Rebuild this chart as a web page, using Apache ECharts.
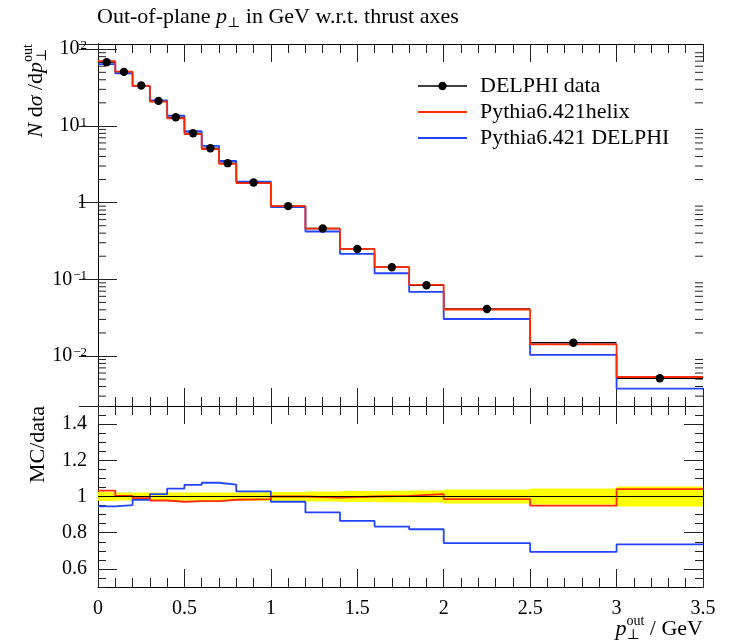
<!DOCTYPE html>
<html><head><meta charset="utf-8">
<script src="https://cdn.jsdelivr.net/npm/echarts@6/dist/echarts.min.js"></script>
<style>html,body{margin:0;padding:0;background:#fff}#c{width:729px;height:644px}</style>
</head><body><div id="c"></div>
<script>
// ---------- data ----------
const binEdges = [0, 0.1, 0.2, 0.3, 0.4, 0.5, 0.6, 0.7, 0.8, 1.0, 1.2, 1.4, 1.6, 1.8, 2.0, 2.5, 3.0, 3.5];
const delphiData = [67.8, 50.7, 33.6, 21.2, 13.0, 8.04, 5.12, 3.27, 1.83, 0.90, 0.46, 0.249, 0.1436, 0.0836, 0.0410, 0.0149, 0.00512];
const pythiaHelix = [70.0, 50.9, 33.3, 20.7, 12.6, 7.83, 4.99, 3.21, 1.80, 0.90, 0.457, 0.249, 0.1442, 0.0847, 0.0404, 0.01416, 0.00533];
const pythiaDelphi = [64.1, 48.3, 33.0, 21.5, 13.6, 8.55, 5.51, 3.49, 1.88, 0.874, 0.420, 0.215, 0.120, 0.0685, 0.0304, 0.01034, 0.00376];
const helixRatio = [1.033, 1.004, 0.991, 0.978, 0.971, 0.974, 0.974, 0.982, 0.985, 1.0, 0.994, 1.0, 1.004, 1.013, 0.985, 0.950, 1.041];
const delphiRatio = [0.945, 0.952, 0.982, 1.013, 1.044, 1.064, 1.076, 1.066, 1.028, 0.971, 0.912, 0.865, 0.834, 0.819, 0.742, 0.694, 0.735];
const dataRelErr = [0.025, 0.022, 0.022, 0.022, 0.022, 0.022, 0.022, 0.022, 0.023, 0.025, 0.028, 0.030, 0.032, 0.033, 0.038, 0.044, 0.055];
const ratioTickLabels = [0.6, 0.8, 1, 1.2, 1.4];
const legendNames = ['DELPHI data', 'Pythia6.421helix', 'Pythia6.421 DELPHI'];

// ---------- styling ----------
const FONT = '"Liberation Serif", "DejaVu Serif", serif';
const RED = '#ff2a00', BLUE = '#2244ff', YELLOW = '#ffff00', INK = '#000', TICK = '#222';
const L = 98, W = 605, T1 = 44, H1 = 362, H2 = 181;
const T2 = T1 + H1;
const yMin = 0.00223, yMax = 117;
const FS = 22, FSS = 14;

function steps(vals) {
  const pts = [];
  for (let i = 0; i < vals.length; i++) {
    pts.push([binEdges[i], vals[i]], [binEdges[i + 1], vals[i]]);
  }
  return pts;
}
const dataBins = delphiData.map((v, i) => [binEdges[i], binEdges[i + 1], v]);
const bandBins = dataRelErr.map((e, i) => [binEdges[i], binEdges[i + 1], e]);

const minorLog = [];
for (let k = -3; k <= 2; k++) {
  for (let m = 2; m <= 9; m++) {
    const v = m * Math.pow(10, k);
    if (v > yMin && v < yMax) minorLog.push([0, v]);
  }
}

// ---------- text helpers ----------
const mctx = document.createElement('canvas').getContext('2d');
function fontStr(size, italic) { return (italic ? 'italic ' : '') + size + 'px ' + FONT; }
function tw(t, s, i) { mctx.font = fontStr(s, i); return mctx.measureText(t).width; }
function textRun(pieces) {
  let x = 0, prevStart = 0;
  const els = [];
  pieces.forEach(p => {
    const w = tw(p.t, p.s, p.i);
    const start = p.stack ? prevStart : x;
    els.push({ type: 'text', x: start, y: (p.dy || 0) - 0.3 * p.s,
      style: { text: p.t, font: fontStr(p.s, p.i), fill: INK, align: 'left', verticalAlign: 'middle' } });
    if (p.stack) { x = Math.max(x, start + w); } else { x = start + w; prevStart = start; }
  });
  return { els, width: x };
}
function shifted(run, dx) { run.els.forEach(e => { e.x += dx; }); return run.els; }

const titleRun = textRun([{ t: 'Out-of-plane ', s: FS }, { t: 'p', s: FS, i: true }, { t: '⊥', s: FSS, dy: 4 }, { t: ' in GeV w.r.t. thrust axes', s: FS }]);
const yRun = textRun([{ t: 'N', s: FS, i: true }, { t: ' d', s: FS }, { t: 'σ', s: FS, i: true }, { t: ' /d', s: FS }, { t: 'p', s: FS, i: true }, { t: '⊥', s: FSS, dy: 4 }, { t: 'out', s: FSS, dy: -10, stack: true }]);
const rRun = textRun([{ t: 'MC/data', s: FS }]);
const xRun = textRun([{ t: 'p', s: FS, i: true }, { t: '⊥', s: FSS, dy: 4 }, { t: 'out', s: FSS, dy: -10, stack: true }, { t: ' / GeV', s: FS }]);

const graphics = [
  { type: 'group', x: 97, y: 24, children: titleRun.els },
  { type: 'group', x: 43, y: T1, rotation: Math.PI / 2, children: shifted(yRun, -yRun.width) },
  { type: 'group', x: 45, y: T2, rotation: Math.PI / 2, children: shifted(rRun, -rRun.width) },
  { type: 'group', x: L + W - xRun.width, y: 636, children: xRun.els }
];
const legendColors = [INK, RED, BLUE];
legendNames.forEach((n, i) => {
  const y = 86 + 26 * i;
  graphics.push({ type: 'line', shape: { x1: 418, y1: y, x2: 467, y2: y }, style: { stroke: legendColors[i], lineWidth: i === 0 ? 1.4 : 1.8 } });
  if (i === 0) graphics.push({ type: 'circle', shape: { cx: 442.5, cy: y, r: 4.2 }, style: { fill: INK } });
  graphics.push({ type: 'text', x: 480, y: y, style: { text: n, font: fontStr(FS, false), fill: INK, align: 'left', verticalAlign: 'middle' } });
});

// ---------- axes ----------
function xAxisCfg(grid, pos, labels) {
  return {
    type: 'value', gridIndex: grid, position: pos, min: 0, max: 3.5, interval: 0.5,
    axisLine: { show: true, lineStyle: { color: INK, width: 1 } },
    axisTick: { show: true, inside: true, length: 18, lineStyle: { color: TICK, width: 1 } },
    minorTick: { show: true, splitNumber: 5, length: 9, lineStyle: { color: TICK, width: 1 } },
    axisLabel: { show: labels, fontFamily: FONT, fontSize: 20, color: INK, margin: 12,
      formatter: v => String(v) },
    splitLine: { show: false }, minorSplitLine: { show: false }
  };
}
function logAxisCfg(pos, labels) {
  return {
    type: 'log', logBase: 10, gridIndex: 0, position: pos, min: yMin, max: yMax,
    axisLine: { show: true, lineStyle: { color: INK, width: 1 } },
    axisTick: { show: true, inside: true, length: 19, lineStyle: { color: TICK, width: 1 } },
    axisLabel: { show: labels, showMinLabel: false, showMaxLabel: false, fontFamily: FONT, fontSize: 20, color: INK, margin: 11,
      formatter: v => {
        const e = Math.round(Math.log10(v));
        if (e === 0) return '1';
        return '10{sup|' + (e < 0 ? '−' + (-e) : e) + '}';
      },
      rich: { sup: { fontFamily: FONT, fontSize: 13, color: INK, verticalAlign: 'top', padding: [0, 0, 4, 1] } } },
    splitLine: { show: false }
  };
}
function ratioMajor(pos, labels) {
  return {
    type: 'value', gridIndex: 1, position: pos, min: 0.5, max: 1.5, interval: 0.1,
    axisLine: { show: true, lineStyle: { color: INK, width: 1 } },
    axisTick: { show: true, inside: true, length: 19, customValues: ratioTickLabels, lineStyle: { color: TICK, width: 1 } },
    axisLabel: { show: labels, customValues: ratioTickLabels, fontFamily: FONT, fontSize: 20, color: INK, margin: 11,
      formatter: v => String(Math.round(v * 10) / 10) },
    splitLine: { show: false }
  };
}
function ratioMinor(pos) {
  return {
    type: 'value', gridIndex: 1, position: pos, min: 0.5, max: 1.5, interval: 0.05,
    axisLine: { show: true, lineStyle: { color: INK, width: 1 } },
    axisTick: { show: true, inside: true, length: 8, lineStyle: { color: TICK, width: 1 } },
    axisLabel: { show: false }, splitLine: { show: false }
  };
}

const option = {
  animation: false,
  backgroundColor: '#fff',
  grid: [
    { left: L, top: T1, width: W, height: H1, containLabel: false, outerBoundsMode: 'none' },
    { left: L, top: T2, width: W, height: H2, containLabel: false, outerBoundsMode: 'none' }
  ],
  xAxis: [xAxisCfg(0, 'bottom', false), xAxisCfg(0, 'top', false), xAxisCfg(1, 'bottom', true), xAxisCfg(1, 'top', false)],
  yAxis: [logAxisCfg('left', true), logAxisCfg('right', false), ratioMajor('left', true), ratioMinor('left'), ratioMajor('right', false), ratioMinor('right')],
  graphic: graphics,
  series: [
    { type: 'custom', name: 'minorLogTicks', xAxisIndex: 0, yAxisIndex: 0, silent: true, clip: false,
      data: minorLog, encode: { x: 0, y: 1 },
      renderItem: (params, api) => {
        const v = api.value(1);
        const pl = api.coord([0, v]), pr = api.coord([3.5, v]);
        return { type: 'group', children: [
          { type: 'line', shape: { x1: pl[0], y1: pl[1], x2: pl[0] + 8, y2: pl[1] }, style: { stroke: TICK, lineWidth: 1 } },
          { type: 'line', shape: { x1: pr[0] - 8, y1: pr[1], x2: pr[0], y2: pr[1] }, style: { stroke: TICK, lineWidth: 1 } }
        ] };
      } },
    { type: 'custom', name: legendNames[0] + ' bins', xAxisIndex: 0, yAxisIndex: 0, data: dataBins, encode: { x: [0, 1], y: 2 }, z: 2,
      renderItem: (params, api) => {
        const lo = api.value(0), hi = api.value(1), v = api.value(2);
        const a = api.coord([lo, v]), b = api.coord([hi, v]);
        return { type: 'line', shape: { x1: a[0], y1: a[1], x2: b[0], y2: b[1] }, style: { stroke: INK, lineWidth: 1.3 } };
      } },
    { type: 'line', name: legendNames[2], xAxisIndex: 0, yAxisIndex: 0, data: steps(pythiaDelphi), showSymbol: false, symbol: 'none',
      lineStyle: { color: BLUE, width: 1.8 }, z: 3 },
    { type: 'line', name: legendNames[1], xAxisIndex: 0, yAxisIndex: 0, data: steps(pythiaHelix), showSymbol: false, symbol: 'none',
      lineStyle: { color: RED, width: 1.8 }, z: 4 },
    { type: 'custom', name: legendNames[0], xAxisIndex: 0, yAxisIndex: 0, data: dataBins, encode: { x: [0, 1], y: 2 }, z: 5,
      renderItem: (params, api) => {
        const lo = api.value(0), hi = api.value(1), v = api.value(2);
        const c = api.coord([(lo + hi) / 2, v]);
        return { type: 'circle', shape: { cx: c[0], cy: c[1], r: 4.2 }, style: { fill: INK } };
      } },
    { type: 'custom', name: 'band', xAxisIndex: 2, yAxisIndex: 2, data: bandBins, encode: { x: [0, 1], y: 2 }, z: 1,
      renderItem: (params, api) => {
        const lo = api.value(0), hi = api.value(1), e = api.value(2);
        const a = api.coord([lo, 1 + e]), b = api.coord([hi, 1 - e]);
        return { type: 'rect', shape: { x: a[0], y: a[1], width: b[0] - a[0], height: b[1] - a[1] }, style: { fill: YELLOW } };
      },
      markLine: { silent: true, symbol: ['none', 'none'], label: { show: false },
        lineStyle: { color: INK, width: 1, type: 'solid' }, data: [{ yAxis: 1 }] } },
    { type: 'line', name: 'helixRatio', xAxisIndex: 2, yAxisIndex: 2, data: steps(helixRatio), showSymbol: false, symbol: 'none',
      lineStyle: { color: RED, width: 1.8 }, z: 4 },
    { type: 'line', name: 'delphiRatio', xAxisIndex: 2, yAxisIndex: 2, data: steps(delphiRatio), showSymbol: false, symbol: 'none',
      lineStyle: { color: BLUE, width: 1.8 }, z: 3 }
  ]
};
const chart = echarts.init(document.getElementById('c'), null, { renderer: 'canvas' });
chart.setOption(option);
</script>
</body></html>
